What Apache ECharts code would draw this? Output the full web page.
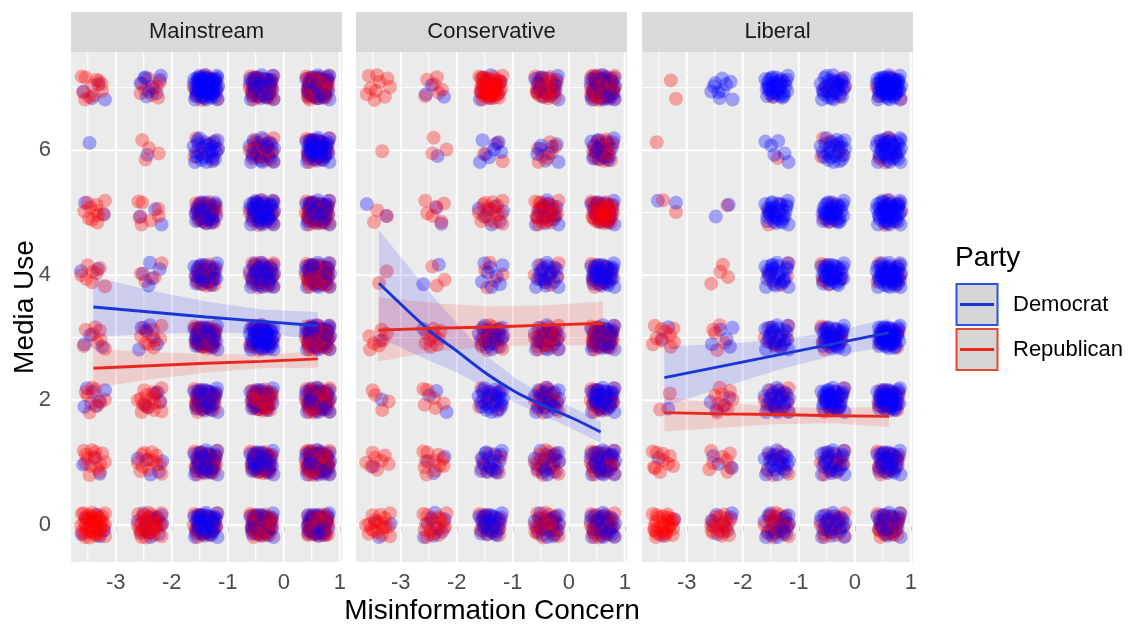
<!DOCTYPE html>
<html>
<head>
<meta charset="utf-8">
<script src="https://cdn.jsdelivr.net/npm/echarts@6/dist/echarts.min.js"></script>
<style>
  html, body { margin: 0; padding: 0; background: #ffffff; }
  #chart { width: 1130px; height: 628px; }
</style>
</head>
<body>
<div id="chart"></div>
<script>
// ---- data ---------------------------------------------------------------
const facets = ['Mainstream', 'Conservative', 'Liberal'];
const parties = ['Democrat', 'Republican'];
const concernLevels = [-3.40, -2.39, -1.39, -0.39, 0.61];   // Misinformation Concern levels
const xTicks = [-3, -2, -1, 0, 1];
const yTicks = [0, 2, 4, 6];

// respondent counts: row = Media Use (0..7), column = concern level
const demMainstream = [
  [6, 14, 45, 38, 45],
  [3, 5, 35, 38, 45],
  [6, 5, 35, 30, 40],
  [3, 6, 38, 45, 45],
  [2, 5, 28, 38, 40],
  [2, 3, 35, 45, 45],
  [1, 1, 26, 24, 45],
  [4, 9, 60, 45, 50]
];
const repMainstream = [
  [40, 30, 28, 40, 45],
  [14, 13, 28, 30, 45],
  [9, 16, 28, 34, 40],
  [8, 10, 34, 20, 45],
  [8, 4, 22, 28, 40],
  [11, 7, 28, 24, 40],
  [0, 4, 8, 20, 24],
  [11, 9, 18, 38, 50]
];
const demConservative = [
  [3, 8, 28, 22, 32],
  [1, 3, 18, 18, 32],
  [1, 3, 26, 22, 36],
  [1, 1, 22, 22, 36],
  [0, 2, 8, 20, 36],
  [2, 2, 7, 16, 22],
  [0, 1, 8, 8, 20],
  [0, 3, 12, 20, 45]
];
const repConservative = [
  [18, 18, 18, 24, 28],
  [8, 11, 10, 18, 25],
  [4, 6, 10, 18, 22],
  [7, 9, 18, 22, 32],
  [2, 3, 5, 10, 18],
  [3, 6, 16, 24, 38],
  [1, 3, 3, 7, 20],
  [10, 6, 45, 26, 45]
];
const demLiberal = [
  [2, 8, 22, 25, 28],
  [1, 3, 22, 26, 32],
  [1, 4, 25, 36, 42],
  [2, 5, 25, 32, 45],
  [0, 0, 26, 32, 45],
  [2, 2, 30, 32, 45],
  [0, 0, 6, 24, 36],
  [0, 10, 32, 32, 55]
];
const repLiberal = [
  [28, 18, 22, 18, 25],
  [10, 8, 10, 14, 18],
  [2, 9, 14, 10, 14],
  [10, 5, 10, 10, 10],
  [0, 4, 6, 8, 10],
  [2, 1, 4, 6, 8],
  [1, 0, 1, 5, 8],
  [2, 0, 3, 6, 8]
];

// fitted trend (lm / smooth) with confidence band, per facet and party
const fitX = [-3.40, -2.39, -1.39, -0.39, 0.61];
const fitDemMainstream = [3.49, 3.41, 3.33, 3.26, 3.19];
const hiDemMainstream  = [3.97, 3.76, 3.58, 3.45, 3.41];
const loDemMainstream  = [3.01, 3.06, 3.08, 3.07, 2.97];
const fitRepMainstream = [2.51, 2.55, 2.59, 2.62, 2.66];
const hiRepMainstream  = [2.82, 2.77, 2.74, 2.73, 2.78];
const loRepMainstream  = [2.20, 2.33, 2.44, 2.51, 2.52];

const curveXConservative = [-3.39, -2.46, -2.02, -1.48, -0.95, -0.47, 0.07, 0.57];
const fitDemConservative = [3.87, 3.09, 2.80, 2.43, 2.13, 1.92, 1.71, 1.49];
const hiDemConservative  = [4.72, 3.70, 3.25, 2.72, 2.35, 2.10, 1.88, 1.66];
const loDemConservative  = [3.00, 2.62, 2.45, 2.20, 1.96, 1.76, 1.54, 1.32];
const fitRepConservative = [3.12, 3.15, 3.17, 3.20, 3.23];
const hiRepConservative  = [3.65, 3.55, 3.50, 3.52, 3.58];
const loRepConservative  = [2.62, 2.78, 2.86, 2.88, 2.88];

const fitDemLiberal = [2.36, 2.54, 2.72, 2.90, 3.08];
const hiDemLiberal  = [2.86, 2.90, 2.96, 3.09, 3.31];
const loDemLiberal  = [1.90, 2.20, 2.48, 2.71, 2.86];
const fitRepLiberal = [1.80, 1.78, 1.77, 1.75, 1.74];
const hiRepLiberal  = [2.05, 1.96, 1.90, 1.87, 1.90];
const loRepLiberal  = [1.50, 1.56, 1.62, 1.63, 1.57];

// fixed jitter pattern (fractions of the jitter half-width)
const jitterPattern = [
  [-0.9, -0.7], [0.3, 0.8], [-0.2, -0.1], [0.85, -0.4], [-0.6, 0.5], [0.5, -0.85],
  [0.1, 0.35], [-0.8, -0.15], [0.65, 0.2], [-0.35, -0.75], [0.2, -0.45], [-0.5, 0.9],
  [0.9, 0.75], [-0.05, 0.6], [0.45, -0.1], [-0.7, -0.5], [0.7, -0.7], [-0.25, 0.2],
  [0.05, -0.9], [0.95, 0.1], [-0.95, 0.3], [0.35, 0.45], [-0.4, -0.3], [0.6, 0.6],
  [-0.15, -0.55], [0.8, -0.15], [-0.65, 0.75], [0.25, 0.05], [-0.85, -0.9], [0.55, -0.5],
  [-0.3, 0.55], [0.0, 0.95], [0.15, -0.25], [-0.55, 0.1], [0.75, 0.45], [-0.1, -0.8],
  [0.4, 0.25], [-0.75, -0.3], [0.9, -0.9], [-0.45, 0.35], [0.1, 0.7], [-0.2, -0.35],
  [0.6, -0.25], [-0.9, 0.65], [0.3, -0.65], [-0.6, -0.05], [0.85, 0.9], [-0.35, 0.8]
];

// ---- styling -------------------------------------------------------------
const FONT = 'Liberation Sans, Arial, Helvetica, sans-serif';
const DEM_POINT = 'rgba(0,0,255,0.4)';
const REP_POINT = 'rgba(255,0,0,0.4)';
const DEM_LINE = '#1a35d6';
const REP_LINE = '#e8281e';
const DEM_BAND = 'rgba(0,0,255,0.13)';
const REP_BAND = 'rgba(255,0,0,0.13)';
const JIT_X = 0.23, JIT_Y = 0.21;

const panelLefts = [71, 356, 642];
const panelWidth = 271;
const panelTop = 52;
const panelHeight = 510;
const X_MIN = -3.8, X_MAX = 1.04;
const Y_MIN = -0.59, Y_MAX = 7.57;

const demCounts = [demMainstream, demConservative, demLiberal];
const repCounts = [repMainstream, repConservative, repLiberal];

// ---- build scatter points (jittered) --------------------------------------
// the pattern is reused with sign flips / quarter turns so repeated draws in a
// crowded cell land on different spots
function patternOffset(idx, party) {
  const N = jitterPattern.length;
  const o = jitterPattern[idx % N];
  const pass = Math.floor(idx / N) % 2;
  let dx = o[0], dy = o[1];
  if (party === 1) { const t = dx; dx = -dy; dy = t; }
  if (pass === 1) { dx = -dx * 0.85; dy = -dy * 0.85; }
  return [dx, dy];
}

function jitteredPoints(dem, rep, fi) {
  const N = jitterPattern.length;
  const pts = [];
  for (let y = 0; y < dem.length; y++) {
    for (let xi = 0; xi < concernLevels.length; xi++) {
      const nd = dem[y][xi], nr = rep[y][xi];
      const s = (xi * 11 + y * 5 + fi * 17) % N;
      for (let k = 0; k < Math.max(nd, nr); k++) {
        if (k < nd) {
          const o = patternOffset(s + k, 0);
          pts.push([concernLevels[xi] + o[0] * JIT_X, y + o[1] * JIT_Y, 0]);
        }
        if (k < nr) {
          const o = patternOffset(s + k + 7, 1);
          pts.push([concernLevels[xi] + o[0] * JIT_X, y + o[1] * JIT_Y, 1]);
        }
      }
    }
  }
  return pts;
}

// ---- grid lines (drawn as a custom series under the points) -------------
const gridLineData = [];
xTicks.forEach(v => gridLineData.push([v, 0, 1]));
[-3.5, -2.5, -1.5, -0.5, 0.5].forEach(v => gridLineData.push([v, 0, 0]));
yTicks.forEach(v => gridLineData.push([v, 1, 1]));
[1, 3, 5, 7].forEach(v => gridLineData.push([v, 1, 0]));

function gridLineSeries(i) {
  return {
    type: 'custom', xAxisIndex: i, yAxisIndex: i, z: 1, silent: true,
    data: gridLineData.map(() => [0, 0]),
    renderItem: function (params, api) {
      const d = gridLineData[params.dataIndex];
      const cs = params.coordSys;
      const w = d[2] ? 2 : 1;
      if (d[1] === 0) {
        const px = api.coord([d[0], 0])[0];
        return { type: 'line', shape: { x1: px, y1: cs.y, x2: px, y2: cs.y + cs.height },
                 style: { stroke: '#ffffff', lineWidth: w } };
      }
      const py = api.coord([0, d[0]])[1];
      return { type: 'line', shape: { x1: cs.x, y1: py, x2: cs.x + cs.width, y2: py },
               style: { stroke: '#ffffff', lineWidth: w } };
    }
  };
}

function bandSeries(i, xs, lo, hi, fill) {
  return {
    type: 'custom', xAxisIndex: i, yAxisIndex: i, z: 3, silent: true,
    data: [[xs[0], lo[0]]],
    renderItem: function (params, api) {
      const pts = [];
      for (let k = 0; k < xs.length; k++) pts.push(api.coord([xs[k], hi[k]]));
      for (let k = xs.length - 1; k >= 0; k--) pts.push(api.coord([xs[k], lo[k]]));
      return { type: 'polygon', shape: { points: pts }, style: { fill: fill } };
    }
  };
}

function fitSeries(i, xs, ys, color, smooth) {
  return {
    type: 'line', xAxisIndex: i, yAxisIndex: i, z: 4, silent: true,
    data: xs.map((x, k) => [x, ys[k]]),
    showSymbol: false, smooth: smooth ? 0.3 : false,
    lineStyle: { color: color, width: 3 }
  };
}

const grids = [], xAxes = [], yAxes = [], series = [];
facets.forEach((name, i) => {
  grids.push({ left: panelLefts[i], top: panelTop, width: panelWidth, height: panelHeight,
               show: true, backgroundColor: '#ebebeb', borderWidth: 0 });
  xAxes.push({
    gridIndex: i, type: 'value', min: X_MIN, max: X_MAX,
    axisLine: { show: false }, splitLine: { show: false },
    axisTick: { show: true, customValues: xTicks, length: 6, lineStyle: { color: '#333333', width: 1 } },
    axisLabel: { customValues: xTicks, color: '#4d4d4d', fontSize: 22, fontFamily: FONT, margin: 10 }
  });
  yAxes.push({
    gridIndex: i, type: 'value', min: Y_MIN, max: Y_MAX,
    axisLine: { show: false }, splitLine: { show: false },
    axisTick: { show: i === 0, customValues: yTicks, length: 6, lineStyle: { color: '#333333', width: 1 } },
    axisLabel: { show: i === 0, customValues: yTicks, color: '#4d4d4d', fontSize: 22, fontFamily: FONT, margin: 20 }
  });
  series.push(gridLineSeries(i));
  series.push({
    type: 'scatter', xAxisIndex: i, yAxisIndex: i, z: 2, silent: true,
    symbol: 'circle', symbolSize: 14,
    data: jitteredPoints(demCounts[i], repCounts[i], i),
    itemStyle: { color: p => (p.data[2] === 0 ? DEM_POINT : REP_POINT) }
  });
});

// trend bands and lines
series.push(bandSeries(0, fitX, loDemMainstream, hiDemMainstream, DEM_BAND));
series.push(bandSeries(0, fitX, loRepMainstream, hiRepMainstream, REP_BAND));
series.push(fitSeries(0, fitX, fitDemMainstream, DEM_LINE, false));
series.push(fitSeries(0, fitX, fitRepMainstream, REP_LINE, false));

series.push(bandSeries(1, curveXConservative, loDemConservative, hiDemConservative, DEM_BAND));
series.push(bandSeries(1, fitX, loRepConservative, hiRepConservative, REP_BAND));
series.push(fitSeries(1, curveXConservative, fitDemConservative, DEM_LINE, true));
series.push(fitSeries(1, fitX, fitRepConservative, REP_LINE, false));

series.push(bandSeries(2, fitX, loDemLiberal, hiDemLiberal, DEM_BAND));
series.push(bandSeries(2, fitX, loRepLiberal, hiRepLiberal, REP_BAND));
series.push(fitSeries(2, fitX, fitDemLiberal, DEM_LINE, false));
series.push(fitSeries(2, fitX, fitRepLiberal, REP_LINE, false));

// ---- facet strips, axis titles and legend --------------------------------
const graphics = [];
facets.forEach((name, i) => {
  graphics.push({ type: 'rect', left: panelLefts[i], top: 12, shape: { width: panelWidth, height: 40 },
                  style: { fill: '#d9d9d9' }, silent: true });
  graphics.push({ type: 'text', x: panelLefts[i] + panelWidth / 2, y: 32,
                  style: { text: name, fill: '#1a1a1a', fontSize: 22, fontFamily: FONT,
                           textAlign: 'center', textVerticalAlign: 'middle' }, silent: true });
});
graphics.push({ type: 'text', x: 492, y: 611,
                style: { text: 'Misinformation Concern', fill: '#000000', fontSize: 28, fontFamily: FONT,
                         textAlign: 'center', textVerticalAlign: 'middle' }, silent: true });
graphics.push({ type: 'text', x: 25, y: 307, rotation: Math.PI / 2,
                style: { text: 'Media Use', fill: '#000000', fontSize: 28, fontFamily: FONT,
                         textAlign: 'center', textVerticalAlign: 'middle' }, silent: true });
graphics.push({ type: 'text', x: 955, y: 258,
                style: { text: 'Party', fill: '#000000', fontSize: 28, fontFamily: FONT,
                         textAlign: 'left', textVerticalAlign: 'middle' }, silent: true });
const keyColors = [['#3050e0', DEM_LINE], ['#e04a35', REP_LINE]];
parties.forEach((p, k) => {
  const top = 284 + k * 45;
  graphics.push({ type: 'rect', shape: { x: 956.5, y: top, width: 41, height: 41 },
                  style: { fill: '#d6d6d6', stroke: keyColors[k][0], lineWidth: 2 }, silent: true });
  graphics.push({ type: 'line', shape: { x1: 960, y1: top + 20.5, x2: 994, y2: top + 20.5 },
                  style: { stroke: keyColors[k][1], lineWidth: 3 }, silent: true });
  graphics.push({ type: 'text', x: 1013, y: top + 21,
                  style: { text: p, fill: '#000000', fontSize: 22, fontFamily: FONT,
                           textAlign: 'left', textVerticalAlign: 'middle' }, silent: true });
});

const chart = echarts.init(document.getElementById('chart'), null, { renderer: 'canvas' });
chart.setOption({
  animation: false,
  backgroundColor: '#ffffff',
  grid: grids,
  xAxis: xAxes,
  yAxis: yAxes,
  series: series,
  graphic: graphics
});
</script>
</body>
</html>
